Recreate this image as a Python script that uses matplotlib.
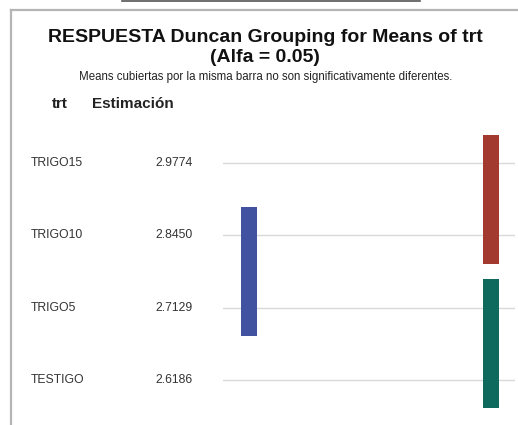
import numpy as np
import matplotlib.pyplot as plt
from matplotlib.lines import Line2D
from matplotlib.transforms import blended_transform_factory

# Data
treatments = ["TRIGO15", "TRIGO10", "TRIGO5", "TESTIGO"]
estimates = [2.9774, 2.8450, 2.7129, 2.6186]

# Duncan groups: (column, first row, last row, colour)
group_cols = [1, 0, 1]
group_start = [0, 1, 2]
group_end = [1, 2, 3]
group_colors = ["#a33a2f", "#4153a0", "#0d6a5d"]

W, H = 518, 425
fig = plt.figure(figsize=(W / 100, H / 100), dpi=100)
plt.rcParams['font.family'] = ['Liberation Sans', 'DejaVu Sans']

def fx(px):
    return px / W

def fy(py):
    return 1 - py / H

# frame from screenshot
fig.add_artist(Line2D([fx(11), fx(518)], [fy(9.5), fy(9.5)], color="#b5b5b5", lw=1.6))
fig.add_artist(Line2D([fx(11), fx(11)], [fy(9.5), fy(425)], color="#b5b5b5", lw=1.6))
fig.add_artist(Line2D([fx(122), fx(420)], [fy(0.5), fy(0.5)], color="#555555", lw=1.2))

# titles
fig.text(fx(265), fy(37), "RESPUESTA Duncan Grouping for Means of trt",
         ha="center", va="center", fontsize=14, fontweight="bold", color="#111111")
fig.text(fx(265), fy(57), "(Alfa = 0.05)",
         ha="center", va="center", fontsize=14, fontweight="bold", color="#111111")
fig.text(fx(266), fy(77), "Means cubiertas por la misma barra no son significativamente diferentes.",
         ha="center", va="center", fontsize=8.3, color="#222222")
fig.text(fx(52), fy(104), "trt", ha="left", va="center", fontsize=11,
         fontweight="bold", color="#222222")
fig.text(fx(92), fy(104), "Estimación", ha="left", va="center", fontsize=11,
         fontweight="bold", color="#222222")

# plot area
ax = fig.add_axes([fx(223), fy(416), fx(515) - fx(223), fy(127) - fy(416)])
rows = np.arange(len(treatments))
ax.set_ylim(3.5, -0.5)
ax.set_xlim(-0.107, 1.099)
for r in rows:
    ax.axhline(r, color="#d9d9d9", lw=1, zorder=0)

ext = 0.39
for c, s, e, col in zip(group_cols, group_start, group_end, group_colors):
    ax.bar(c, (e - s) + 2 * ext, bottom=s - ext, width=0.066, color=col, zorder=2)

ax.axis("off")

trans = blended_transform_factory(fig.transFigure, ax.transData)
for r, name, est in zip(rows, treatments, estimates):
    ax.text(fx(31), r, name, transform=trans, ha="left", va="center",
            fontsize=8.8, color="#333333")
    ax.text(fx(155), r, f"{est:.4f}", transform=trans, ha="left", va="center",
            fontsize=8.8, color="#333333")

fig.savefig("out.png", dpi=100)
